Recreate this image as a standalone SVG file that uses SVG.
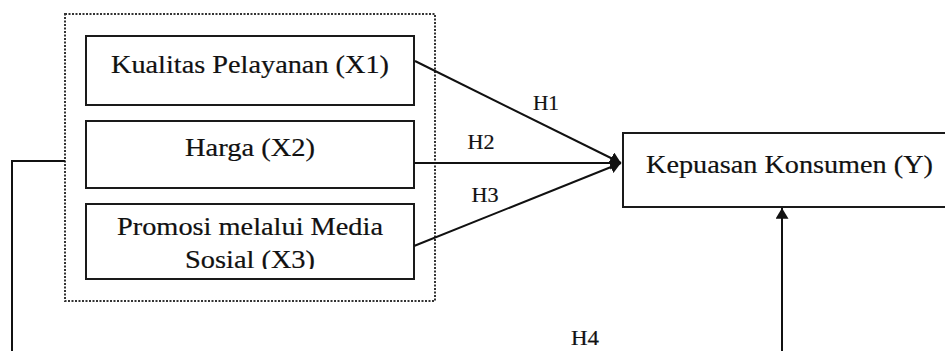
<svg xmlns="http://www.w3.org/2000/svg" width="945" height="351" viewBox="0 0 945 351">
<style>
.box{fill:#fff;stroke:#1a1a1a;stroke-width:2}
.grp{fill:none;stroke:#333;stroke-width:2;stroke-dasharray:2 1.5}
.lbl{font-family:"Liberation Serif",serif;font-size:25px;fill:#111;stroke:#111;stroke-width:0.2;text-anchor:middle}
.h{font-family:"Liberation Serif",serif;font-size:20px;fill:#111;stroke:#111;stroke-width:0.2;text-anchor:middle}
.ln{fill:none;stroke:#111;stroke-width:2}
</style>
<defs>
<marker id="ah" viewBox="0 0 10 12" refX="10" refY="6" markerWidth="5.5" markerHeight="6.5" orient="auto" markerUnits="strokeWidth">
<path d="M0,0 L10,6 L0,12 z" fill="#111"/>
</marker>
<clipPath id="c3"><rect x="86" y="204" width="328" height="65"/></clipPath>
</defs>
<rect width="945" height="351" fill="#fff"/>
<g id="group-x">
<rect class="grp" x="65" y="14" width="370" height="287"/>
</g>
<g id="x1">
<rect class="box" x="86" y="36" width="328" height="69"/>
<text class="lbl" x="250" y="73" textLength="278" lengthAdjust="spacingAndGlyphs">Kualitas Pelayanan (X1)</text>
</g>
<g id="x2">
<rect class="box" x="86" y="121" width="328" height="67"/>
<text class="lbl" x="250" y="156" textLength="130" lengthAdjust="spacingAndGlyphs">Harga (X2)</text>
</g>
<g id="x3">
<rect class="box" x="86" y="204" width="328" height="75"/>
<text class="lbl" x="250" y="235" textLength="266" lengthAdjust="spacingAndGlyphs">Promosi melalui Media</text>
<text class="lbl" x="250" y="268" textLength="130" lengthAdjust="spacingAndGlyphs" clip-path="url(#c3)">Sosial (X3)</text>
</g>
<g id="y">
<rect class="box" x="623" y="133" width="330" height="74"/>
<text class="lbl" x="789.5" y="173" textLength="287" lengthAdjust="spacingAndGlyphs">Kepuasan Konsumen (Y)</text>
</g>
<g id="connectors">
<line class="ln" x1="415" y1="61" x2="621" y2="163" marker-end="url(#ah)"/>
<line class="ln" x1="414" y1="163" x2="621" y2="163" marker-end="url(#ah)"/>
<line class="ln" x1="414" y1="246" x2="621" y2="163" marker-end="url(#ah)"/>
<polyline class="ln" points="65,161 12,161 12,351"/>
<line class="ln" x1="782" y1="351" x2="782" y2="208" marker-end="url(#ah)"/>
<text class="h" x="546" y="110" textLength="26" lengthAdjust="spacingAndGlyphs">H1</text>
<text class="h" x="481" y="149" textLength="27" lengthAdjust="spacingAndGlyphs">H2</text>
<text class="h" x="485" y="202" textLength="27" lengthAdjust="spacingAndGlyphs">H3</text>
<text class="h" x="585" y="345" textLength="28" lengthAdjust="spacingAndGlyphs">H4</text>
</g>
</svg>
